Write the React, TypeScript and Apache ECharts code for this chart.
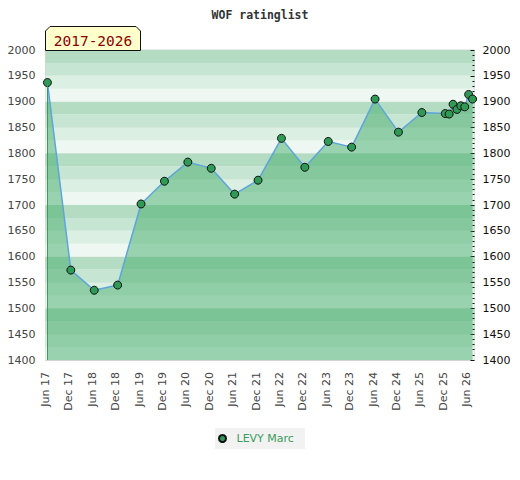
import React, { useEffect, useRef } from "react";
import * as echarts from "echarts";

const listDates = [
  "2017-06", "2017-12", "2018-06", "2018-12", "2019-06", "2019-12",
  "2020-06", "2020-12", "2021-06", "2021-12", "2022-06", "2022-12",
  "2023-06", "2023-12", "2024-06", "2024-12", "2025-06", "2025-12",
  "2026-01", "2026-02", "2026-03", "2026-04", "2026-05", "2026-06", "2026-07",
];
const ratings = [
  1937, 1574, 1535, 1545, 1702, 1746,
  1783, 1771, 1721, 1748, 1829, 1773,
  1823, 1812, 1905, 1841, 1879, 1877,
  1876, 1895, 1885, 1892, 1890, 1914, 1905,
];
const playerName = "LEVY Marc";
const chartTitle = "WOF ratinglist";
const periodTag = "2017-2026";
const monthNames = ["Jan", "Feb", "Mar", "Apr", "May", "Jun", "Jul", "Aug", "Sep", "Oct", "Nov", "Dec"];
const startYear = 2017;
const startMonth = 6;
const yMin = 1400;
const yMax = 2000;

function monthIndex(d: string): number {
  const [y, m] = d.split("-").map(Number);
  return (y - startYear) * 12 + (m - startMonth) + 0.5;
}

function monthLabel(v: number): string {
  if (Math.abs(v % 6) > 1e-9 || v > 108) return "";
  const total = startMonth - 1 + v;
  const y = startYear + Math.floor(total / 12);
  const m = total % 12;
  return monthNames[m] + " " + String(y).slice(2);
}

export default function App() {
  const ref = useRef<HTMLDivElement>(null);
  useEffect(() => {
    document.body.style.margin = "0";
    const chart = echarts.init(ref.current!, null, { renderer: "svg" });
    const seriesData = listDates.map((d, i) => [monthIndex(d), ratings[i]]);
    const x0 = monthIndex(listDates[0]);
    const font = "DejaVu Sans";
    const plain = (v: number) => String(v);
    chart.setOption({
      animation: false,
      backgroundColor: "#ffffff",
      title: {
        text: chartTitle,
        left: "center",
        top: 4,
        textStyle: { fontFamily: "DejaVu Sans Mono", fontWeight: "bold", fontSize: 11.5, color: "#333" },
      },
      grid: {
        left: 45.5,
        right: 45.5,
        top: 50,
        bottom: 120,
        show: true,
        borderColor: "#d4d4d4",
        borderWidth: 1,
      },
      legend: {
        data: [playerName],
        left: 215,
        top: 428,
        icon: "circle",
        itemWidth: 18,
        itemHeight: 7,
        padding: [5, 11, 5, 3],
        backgroundColor: "#f2f2f2",
        textStyle: { color: "#3a9d5d", fontFamily: font, fontSize: 11 },
      },
      xAxis: {
        type: "value",
        min: 0,
        max: 110,
        interval: 6,
        axisLine: { show: true, lineStyle: { color: "#d4d4d4" } },
        axisTick: { show: false },
        splitLine: { show: false },
        axisLabel: {
          rotate: 90,
          margin: 12,
          color: "#444",
          fontFamily: font,
          fontSize: 11,
          formatter: (v: number) => monthLabel(v),
          showMaxLabel: false,
        },
      },
      yAxis: [
        {
          type: "value",
          position: "left",
          min: yMin,
          max: yMax,
          interval: 50,
          axisLine: { show: false },
          axisTick: { show: false },
          axisLabel: { color: "#444", fontFamily: font, fontSize: 11, margin: 10, formatter: plain },
          splitLine: { show: true, lineStyle: { color: "#dedede", width: 1 } },
        },
        {
          type: "value",
          position: "right",
          min: yMin,
          max: yMax,
          interval: 50,
          axisLine: { show: false },
          axisTick: { show: true, inside: true, length: 4, lineStyle: { color: "#111" } },
          minorTick: { show: true, splitNumber: 5, length: 2, lineStyle: { color: "#111" } },
          axisLabel: { color: "#111", fontFamily: font, fontSize: 11, margin: 8, formatter: plain },
          splitLine: { show: false },
        },
        {
          type: "value",
          position: "left",
          min: yMin,
          max: yMax,
          interval: 25,
          axisLine: { show: false },
          axisTick: { show: false },
          axisLabel: { show: false },
          splitLine: { show: false },
          splitArea: {
            show: true,
            areaStyle: { color: ["#eef7f1", "#dbefe2", "#c7e5d3", "#b3dcc3"] },
          },
        },
      ],
      series: [
        {
          name: playerName,
          type: "line",
          yAxisIndex: 0,
          data: seriesData,
          symbol: "circle",
          symbolSize: 8,
          itemStyle: { color: "#2f9a55", borderColor: "#111", borderWidth: 1 },
          lineStyle: { color: "#5ea5dc", width: 1.5 },
          areaStyle: { color: "rgba(61,170,100,0.48)", opacity: 1, origin: "start" },
          markLine: {
            silent: true,
            symbol: "none",
            label: { show: false },
            lineStyle: { color: "#3d9a5c", width: 1, type: "solid" },
            data: [[{ coord: [x0, yMin] }, { coord: [x0, ratings[0]] }]],
          },
          z: 3,
        },
      ],
      graphic: [
        {
          type: "polygon",
          shape: {
            points: [
              [45.5, 50.5], [45.5, 31], [50, 26.5], [136, 26.5], [140.5, 31], [140.5, 50.5],
            ],
          },
          style: { fill: "#ffffcc", stroke: "#111", lineWidth: 1 },
          z: 10,
        },
        {
          type: "text",
          x: 93,
          y: 40.5,
          style: {
            text: periodTag,
            fill: "#8b0000",
            font: "14.5px 'DejaVu Sans Mono'",
            textAlign: "center",
            textVerticalAlign: "middle",
          },
          z: 11,
        },
      ],
    });
    return () => chart.dispose();
  }, []);
  return <div ref={ref} style={{ width: 520, height: 480 }} />;
}
